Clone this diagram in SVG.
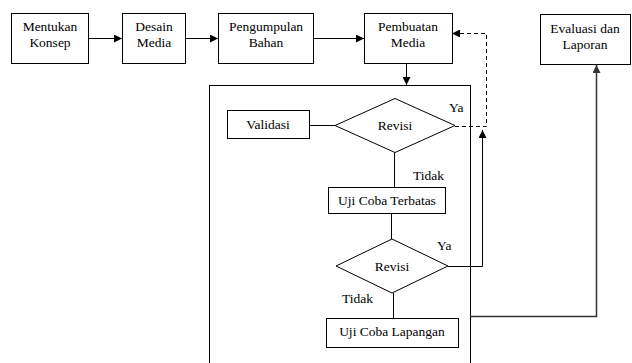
<svg xmlns="http://www.w3.org/2000/svg" width="632" height="363" viewBox="0 0 632 363" font-family="'Liberation Serif', 'Times New Roman', serif" font-size="13.5">
<style>
.box{fill:#fff;stroke:#000;stroke-width:1}
.ln{fill:none;stroke:#000;stroke-width:1}
.c{text-anchor:middle}
</style>
<defs>
<marker id="ah" viewBox="0 0 10 10" refX="10" refY="5" markerWidth="8" markerHeight="8" markerUnits="userSpaceOnUse" orient="auto">
<path d="M0,0 L10,5 L0,10 z" fill="#000"/>
</marker>
<marker id="ahg" viewBox="0 0 10 10" refX="10" refY="5" markerWidth="8" markerHeight="8" markerUnits="userSpaceOnUse" orient="auto">
<path d="M0,0 L10,5 L0,10 z" fill="#333"/>
</marker>
</defs>
<rect x="0" y="0" width="632" height="363" fill="#fff"/>
<g id="container"><rect class="box" x="209.5" y="85.5" width="261" height="290"/></g>
<g id="connectors">
<line class="ln" x1="89" y1="38.5" x2="122" y2="38.5" marker-end="url(#ah)"/>
<line class="ln" x1="185" y1="38.5" x2="218" y2="38.5" marker-end="url(#ah)"/>
<line class="ln" x1="313" y1="38.5" x2="364" y2="38.5" marker-end="url(#ah)"/>
<line class="ln" x1="406.5" y1="63" x2="406.5" y2="85" marker-end="url(#ah)"/>
<polyline class="ln" points="455,126.5 486.5,126.5 486.5,33.5 452,33.5" stroke-dasharray="4,3" marker-end="url(#ah)"/>
<line class="ln" x1="309" y1="125.5" x2="335" y2="125.5"/>
<line class="ln" x1="394.5" y1="152" x2="394.5" y2="187"/>
<line class="ln" x1="391.5" y1="213" x2="391.5" y2="239"/>
<polyline class="ln" points="448,266.5 482.5,266.5 482.5,130" marker-end="url(#ah)"/>
<line class="ln" x1="393.5" y1="293" x2="393.5" y2="318"/>
<polyline points="470,316.5 596.5,316.5 596.5,65" fill="none" stroke="#333" stroke-width="1.5" marker-end="url(#ahg)"/>
</g>
<g id="n1"><rect class="box" x="11.5" y="13.5" width="77" height="50"/><text class="c" x="50" y="31">Mentukan</text><text class="c" x="50" y="47">Konsep</text></g>
<g id="n2"><rect class="box" x="122.5" y="13.5" width="63" height="50"/><text class="c" x="154" y="31">Desain</text><text class="c" x="154" y="47">Media</text></g>
<g id="n3"><rect class="box" x="218.5" y="13.5" width="95" height="50"/><text class="c" x="266" y="31">Pengumpulan</text><text class="c" x="266" y="47">Bahan</text></g>
<g id="n4"><rect class="box" x="364.5" y="13.5" width="88" height="50"/><text class="c" x="408" y="31">Pembuatan</text><text class="c" x="408" y="47">Media</text></g>
<g id="n5"><rect class="box" x="540.5" y="14.5" width="90" height="50"/><text class="c" x="585" y="33">Evaluasi dan</text><text class="c" x="585" y="49">Laporan</text></g>
<g id="validasi"><rect class="box" x="227.5" y="110.5" width="82" height="28"/><text class="c" x="268" y="129">Validasi</text></g>
<g id="revisi1"><polygon class="box" points="335,125.5 395,98.5 455,125.5 395,152.5"/><text class="c" x="395" y="130">Revisi</text></g>
<g id="ujiterbatas"><rect class="box" x="328.5" y="187.5" width="117" height="26"/><text class="c" x="387" y="205">Uji Coba Terbatas</text></g>
<g id="revisi2"><polygon class="box" points="336,266 392,239 448,266 392,293"/><text class="c" x="392" y="271">Revisi</text></g>
<g id="ujilapangan"><rect class="box" x="326.5" y="318.5" width="132" height="29"/><text class="c" x="392" y="336">Uji Coba Lapangan</text></g>
<g id="labels">
<text x="449" y="112">Ya</text>
<text x="413" y="180">Tidak</text>
<text x="437" y="250">Ya</text>
<text x="342" y="303">Tidak</text>
</g>
</svg>
